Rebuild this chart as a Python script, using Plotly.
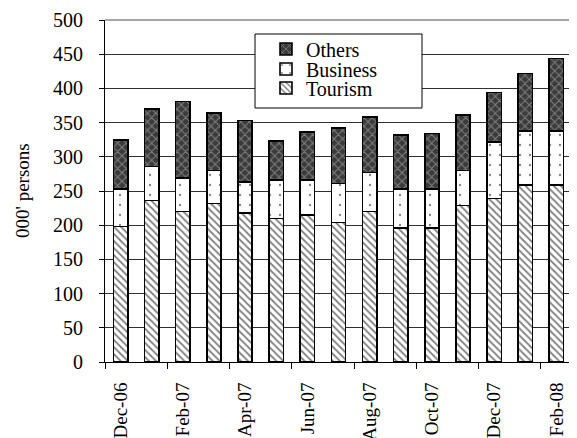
import plotly.graph_objects as go

months = ["Dec-06", "Jan-07", "Feb-07", "Mar-07", "Apr-07", "May-07", "Jun-07",
          "Jul-07", "Aug-07", "Sep-07", "Oct-07", "Nov-07", "Dec-07", "Jan-08", "Feb-08"]
tourism = [198, 236, 220, 232, 218, 210, 215, 204, 220, 196, 196, 229, 239, 259, 259]
business = [55, 50, 49, 48, 45, 56, 51, 57, 57, 57, 57, 51, 83, 79, 79]
others = [72, 84, 112, 84, 90, 57, 70, 81, 81, 79, 81, 81, 72, 84, 106]
y_ticks = list(range(0, 501, 50))

FONT = "Liberation Serif, Times New Roman, serif"
xs = list(range(len(months)))

OFF = 8  # page body margin
W, H = 577 - OFF, 438 - OFF
L, R, T, B = 105 - OFF, 5, 20 - OFF, 76
pw, ph = W - L - R, H - T - B

def px_x(p):
    return (p - OFF - L) / pw

def px_y(p):
    return (H - B - (p - OFF)) / ph

fig = go.Figure()
fig.add_trace(go.Bar(
    x=xs, y=tourism, name="Tourism", width=0.46, legend="legend3",
    marker=dict(color="white", line=dict(color="black", width=1.6),
                pattern=dict(shape="\\", fgcolor="black", bgcolor="white",
                             size=5, solidity=0.35))))
fig.add_trace(go.Bar(
    x=xs, y=business, name="Business", width=0.46, legend="legend2",
    marker=dict(color="white", line=dict(color="black", width=1.6),
                pattern=dict(shape=".", fgcolor="black", bgcolor="white",
                             size=10, solidity=0.04))))
fig.add_trace(go.Bar(
    x=xs, y=others, name="Others", width=0.46, legend="legend",
    marker=dict(color="#3a3a3a", line=dict(color="black", width=1.6),
                pattern=dict(shape="x", fgcolor="#c4c4c4", bgcolor="#3a3a3a",
                             size=6, solidity=0.3))))

leg_common = dict(xanchor="left", yanchor="middle", bgcolor="rgba(0,0,0,0)",
                  borderwidth=0, font=dict(family=FONT, size=20, color="black"))
fig.update_layout(
    legend=dict(x=px_x(266), y=px_y(49), **leg_common),
    legend2=dict(x=px_x(266), y=px_y(69), **leg_common),
    legend3=dict(x=px_x(266), y=px_y(88), **leg_common),
)

fig.update_layout(
    width=W, height=H,
    margin=dict(l=L, r=R, t=T, b=B, autoexpand=False),
    barmode="stack",
    paper_bgcolor="white", plot_bgcolor="white",
    font=dict(family=FONT, size=20, color="black"),
    xaxis=dict(range=[-0.5, len(months) - 0.5], tickmode="array",
               tickvals=xs[::2], ticktext=months[::2], tickangle=-90,
               ticks="", showgrid=False, showline=True, linecolor="black",
               linewidth=1, zeroline=False, ticklabelstandoff=12, automargin=False,
               minor=dict(tick0=-0.5, dtick=2, ticks="outside", ticklen=6,
                          tickcolor="black", tickwidth=1, showgrid=False),
               tickfont=dict(size=19)),
    yaxis=dict(range=[0, 500], tickmode="array", tickvals=y_ticks,
               ticks="outside", ticklen=5, tickcolor="black", automargin=False,
               showgrid=True, gridcolor="#303030", gridwidth=1,
               showline=True, linecolor="black", linewidth=1,
               zeroline=False, ticklabelstandoff=12, tickfont=dict(size=20)),
    showlegend=True,
)

# plot-area border on top and right (gray)
fig.add_shape(type="line", xref="paper", yref="paper", x0=0, x1=1, y0=1, y1=1,
              line=dict(color="#888888", width=1.5))
fig.add_shape(type="line", xref="paper", yref="paper", x0=1, x1=1, y0=0, y1=1,
              line=dict(color="#888888", width=1.5))
# legend box
fig.add_shape(type="rect", xref="paper", yref="paper",
              x0=px_x(255), x1=px_x(422), y0=px_y(108), y1=px_y(34),
              fillcolor="white", line=dict(color="black", width=1), layer="above")

fig.add_annotation(text="000' persons", xref="paper", yref="paper",
                   x=px_x(22), y=0.5, xanchor="center", yanchor="middle",
                   textangle=-90, showarrow=False,
                   font=dict(family=FONT, size=19, color="black"))

fig.write_html("out.html")
